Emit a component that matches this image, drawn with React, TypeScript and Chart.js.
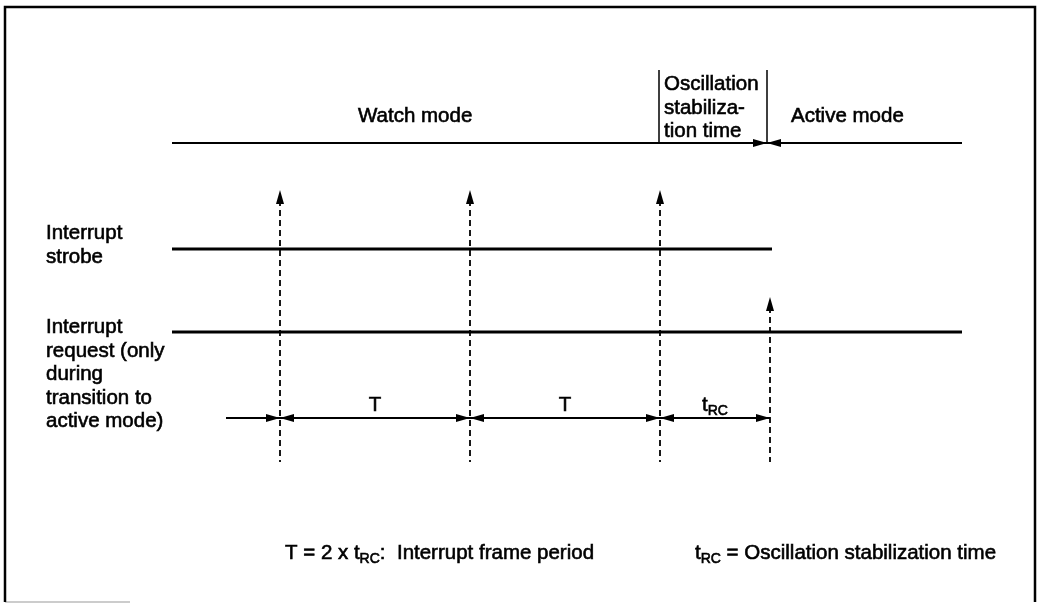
import { useEffect, useRef } from "react";
import { Chart, registerables } from "chart.js";

Chart.register(...registerables);

const W = 1039;
const H = 604;

// ---- horizontal positions along the diagram's time axis (diagram units) ----
const strobeTimes = [280, 470, 660];
const requestTime = 770;
const oscStart = 659;
const oscEnd = 767;
const traceStart = 172;
const traceEnd = 962;
const strobeEnd = 772;
const periodStart = 226;
const periodBounds = [280, 470, 660, 770];
const periodLabels = ["T", "T", "t_{RC}"];

// ---- vertical rows (diagram units, top = 0) ----
const modeRow = 143;
const strobeRow = 249;
const requestRow = 332;
const periodRow = 418;
const markerTop = 190;
const requestMarkerTop = 297;
const markerBottom = 462;
const oscLabelTop = 70;

// ---- frame ----
const frameX = [5, 1035];
const frameY = [7, 602];

// ---- texts ----
const modeLabels = ["Watch mode", "Active mode"];
const modeLabelX = [358, 791];
const modeLabelY = 122;
const oscLabelLines = ["Oscillation", "stabiliza-", "tion time"];
const oscLabelX = 664;
const oscLabelY = [90, 114, 137];
const strobeLabelLines = ["Interrupt", "strobe"];
const strobeLabelY = [239, 263];
const requestLabelLines = ["Interrupt", "request (only", "during", "transition to", "active mode)"];
const requestLabelY = [333, 357, 380, 404, 427];
const sideLabelX = 46;
const periodLabelY = 411;
const footnotes = ["T = 2 x t_{RC}:  Interrupt frame period", "t_{RC} = Oscillation stabilization time"];
const footnoteX = [285, 695];
const footnoteY = 559;

const FONT = '"Liberation Sans", Arial, Helvetica, sans-serif';
const FONT_SIZE = 20.5;
const SUB_SIZE = 14;

function makeArrow(len: number, wid: number): HTMLCanvasElement {
  const c = document.createElement("canvas");
  c.width = len * 2;
  c.height = wid;
  const g = c.getContext("2d")!;
  g.fillStyle = "#000";
  g.beginPath();
  g.moveTo(0, 0);
  g.lineTo(len, wid / 2);
  g.lineTo(0, wid);
  g.closePath();
  g.fill();
  return c;
}

function drawRich(ctx: CanvasRenderingContext2D, text: string, x: number, y: number, align: "left" | "center") {
  const parts = text.split(/(_\{[^}]*\})/).filter((p) => p.length);
  const segs = parts.map((p) => {
    const sub = p.startsWith("_{");
    return { t: sub ? p.slice(2, -1) : p, sub };
  });
  let total = 0;
  for (const s of segs) {
    ctx.font = `${s.sub ? SUB_SIZE : FONT_SIZE}px ${FONT}`;
    total += ctx.measureText(s.t).width;
  }
  let cx = align === "center" ? x - total / 2 : x;
  for (const s of segs) {
    ctx.font = `${s.sub ? SUB_SIZE : FONT_SIZE}px ${FONT}`;
    const yy = s.sub ? y + 4 : y;
    ctx.fillText(s.t, cx, yy);
    ctx.strokeText(s.t, cx, yy);
    cx += ctx.measureText(s.t).width;
  }
}

const textPlugin = {
  id: "diagramText",
  afterDatasetsDraw(chart: any) {
    const { ctx } = chart;
    const xs = chart.scales.x;
    const ys = chart.scales.y;
    const px = (v: number) => xs.getPixelForValue(v);
    const py = (v: number) => ys.getPixelForValue(v);
    ctx.save();
    ctx.fillStyle = "#000";
    ctx.strokeStyle = "#000";
    ctx.lineWidth = 0.6;
    ctx.textBaseline = "alphabetic";
    ctx.textAlign = "left";
    modeLabels.forEach((t, i) => drawRich(ctx, t, px(modeLabelX[i]), py(modeLabelY), "left"));
    oscLabelLines.forEach((t, i) => drawRich(ctx, t, px(oscLabelX), py(oscLabelY[i]), "left"));
    strobeLabelLines.forEach((t, i) => drawRich(ctx, t, px(sideLabelX), py(strobeLabelY[i]), "left"));
    requestLabelLines.forEach((t, i) => drawRich(ctx, t, px(sideLabelX), py(requestLabelY[i]), "left"));
    periodLabels.forEach((t, i) => {
      const mid = (periodBounds[i] + periodBounds[i + 1]) / 2;
      drawRich(ctx, t, px(mid), py(periodLabelY), "center");
    });
    footnotes.forEach((t, i) => drawRich(ctx, t, px(footnoteX[i]), py(footnoteY), "left"));
    ctx.restore();
  },
};

export default function App() {
  const ref = useRef<HTMLCanvasElement>(null);

  useEffect(() => {
    const hArrow = makeArrow(14, 8);
    const vArrow = makeArrow(14, 8);

    const line = (pts: { x: number; y: number }[], width: number, extra: any = {}) => ({
      data: pts,
      showLine: true,
      borderColor: "#000",
      borderWidth: width,
      pointRadius: 0,
      fill: false,
      clip: false,
      ...extra,
    });

    const datasets: any[] = [];
    // frame
    datasets.push(
      line(
        [
          { x: frameX[0], y: frameY[1] },
          { x: frameX[0], y: frameY[0] },
          { x: frameX[1], y: frameY[0] },
          { x: frameX[1], y: frameY[1] },
        ],
        2.5
      )
    );
    datasets.push(line([{ x: frameX[0], y: frameY[1] }, { x: 130, y: frameY[1] }], 1.5, { borderColor: "#bbb" }));
    // mode row
    datasets.push(line([{ x: traceStart, y: modeRow }, { x: traceEnd, y: modeRow }], 2));
    [oscStart, oscEnd].forEach((t) => datasets.push(line([{ x: t, y: oscLabelTop }, { x: t, y: modeRow }], 1.5)));
    datasets.push({
      data: [
        { x: oscEnd, y: modeRow },
        { x: oscEnd, y: modeRow },
      ],
      showLine: false,
      pointStyle: hArrow,
      pointRotation: [0, 180],
      pointRadius: 5,
      clip: false,
    });
    // strobe and request traces
    datasets.push(line([{ x: traceStart, y: strobeRow }, { x: strobeEnd, y: strobeRow }], 3));
    datasets.push(line([{ x: traceStart, y: requestRow }, { x: traceEnd, y: requestRow }], 3));
    // dashed markers
    strobeTimes.forEach((t) =>
      datasets.push(line([{ x: t, y: markerTop + 10 }, { x: t, y: markerBottom }], 1.8, { borderDash: [6, 4] }))
    );
    datasets.push(
      line([{ x: requestTime, y: requestMarkerTop + 10 }, { x: requestTime, y: markerBottom }], 1.8, {
        borderDash: [6, 4],
      })
    );
    datasets.push({
      data: [...strobeTimes.map((t) => ({ x: t, y: markerTop })), { x: requestTime, y: requestMarkerTop }],
      showLine: false,
      pointStyle: vArrow,
      pointRotation: -90,
      pointRadius: 5,
      clip: false,
    });
    // period dimension line
    datasets.push(line([{ x: periodStart, y: periodRow }, { x: periodBounds[periodBounds.length - 1], y: periodRow }], 2));
    const pArrows: { x: number; y: number }[] = [];
    const pRot: number[] = [];
    periodBounds.forEach((b, i) => {
      pArrows.push({ x: b, y: periodRow });
      pRot.push(0);
      if (i < periodBounds.length - 1) {
        pArrows.push({ x: b, y: periodRow });
        pRot.push(180);
      }
    });
    datasets.push({ data: pArrows, showLine: false, pointStyle: hArrow, pointRotation: pRot, pointRadius: 5, clip: false });

    const chart = new Chart(ref.current!, {
      type: "scatter",
      data: { datasets },
      options: {
        animation: false,
        responsive: false,
        events: [],
        layout: { padding: 0, autoPadding: false },
        scales: {
          x: { type: "linear", min: 0, max: W, display: false },
          y: { type: "linear", min: 0, max: H, reverse: true, display: false },
        },
        plugins: { legend: { display: false }, tooltip: { enabled: false } },
      },
      plugins: [textPlugin],
    });
    return () => chart.destroy();
  }, []);

  return (
    <div style={{ position: "fixed", left: 0, top: 0, width: W, height: H, background: "#fff" }}>
      <canvas ref={ref} width={W} height={H} style={{ display: "block" }} />
    </div>
  );
}
